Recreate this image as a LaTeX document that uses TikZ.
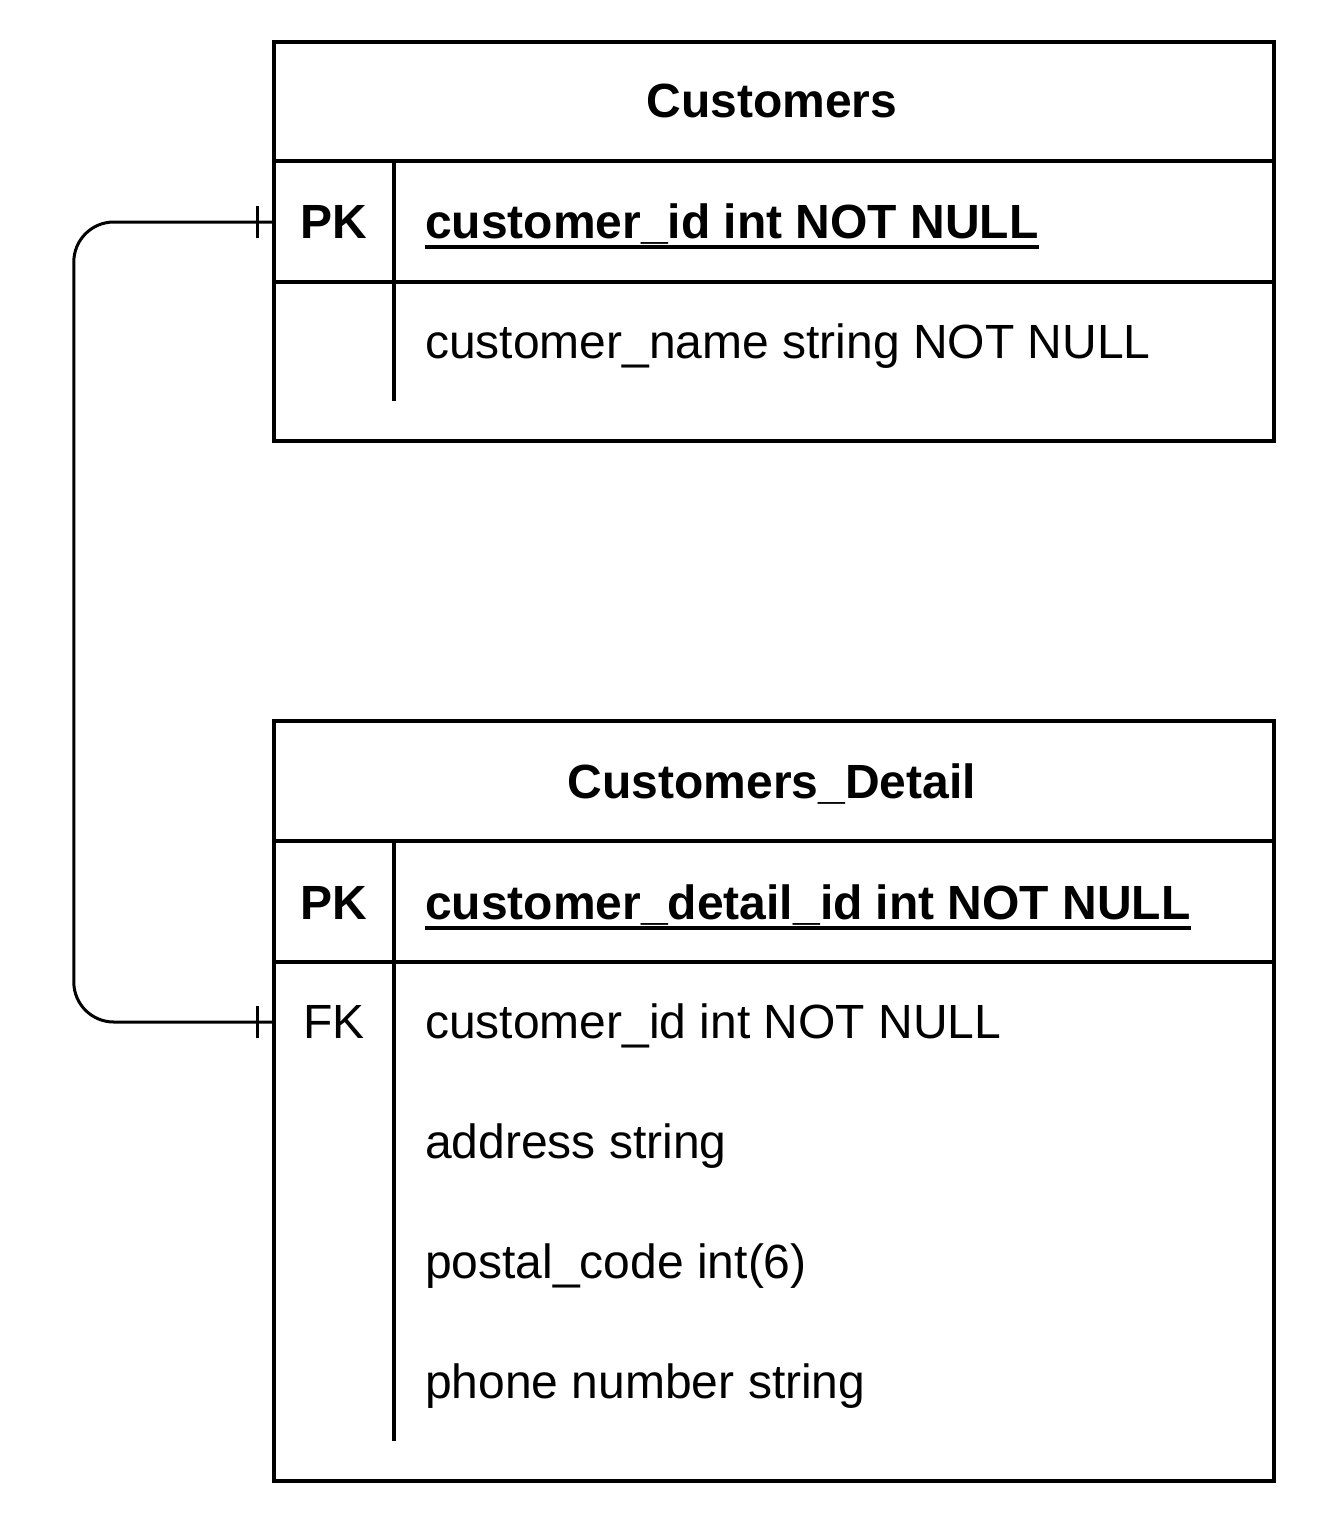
\documentclass[tikz,border=0pt]{standalone}
\usepackage{fontspec}
\setmainfont{Liberation Sans}
\begin{document}
\begin{tikzpicture}[x=1pt,y=-1pt,
  box/.style={draw,line width=4pt},
  rule/.style={line width=4pt},
  keycell/.style={minimum width=120pt,minimum height=120pt,inner sep=0pt},
  keytxt/.style={anchor=base,inner sep=0pt,font=\fontsize{48}{56}\selectfont},
  fieldtxt/.style={anchor=base west,inner sep=0pt,font=\fontsize{48}{56}\selectfont},
  title/.style={anchor=base,inner sep=0pt,font=\fontsize{48}{56}\selectfont\bfseries},
  conn/.style={line width=3pt,rounded corners=40pt},
  tick/.style={line width=3pt},
  uline/.style={line width=3.5pt}]
\useasboundingbox (0,0) rectangle (1320,1524);
% ---- Customers ----
\node[box,minimum width=1000pt,minimum height=399pt,inner sep=0pt] (t1) at (774,241.5) {};
\draw[rule] (274,161) -- (1274,161);
\draw[rule] (274,282) -- (1274,282);
\draw[rule] (394,161) -- (394,401);
\node[title] (t1h) at (772,117) {Customers};
\node[keycell] (t1k1) at (334,222) {};
\node[keytxt,font=\fontsize{48}{56}\selectfont\bfseries] (t1k1t) at (334,238) {PK};
\node[fieldtxt,font=\fontsize{48}{56}\selectfont\bfseries] (t1f1) at (425,238) {customer\_id int NOT NULL};
\draw[uline] ([yshift=-9pt]t1f1.base west) -- ([yshift=-9pt]t1f1.base east);
\node[keycell] (t1k2) at (334,343) {};
\node[fieldtxt] (t1f2) at (425,358) {customer\_name string NOT NULL};
% ---- Customers_Detail ----
\node[box,minimum width=1000pt,minimum height=760pt,inner sep=0pt] (t2) at (774,1101) {};
\draw[rule] (274,841) -- (1274,841);
\draw[rule] (274,962) -- (1274,962);
\draw[rule] (394,841) -- (394,1441);
\node[title] (t2h) at (772,798) {Customers\_Detail};
\node[keycell] (t2k1) at (334,903) {};
\node[keytxt,font=\fontsize{48}{56}\selectfont\bfseries] (t2k1t) at (334,919) {PK};
\node[fieldtxt,font=\fontsize{48}{56}\selectfont\bfseries] (t2f1) at (425,919) {customer\_detail\_id int NOT NULL};
\draw[uline] ([yshift=-9pt]t2f1.base west) -- ([yshift=-9pt]t2f1.base east);
\node[keycell] (t2k2) at (334,1022) {};
\node[keytxt] (t2k2t) at (334,1038) {FK};
\node[fieldtxt] (t2f2) at (425,1038) {customer\_id int NOT NULL};
\node[fieldtxt] (t2f3) at (425,1158) {address string};
\node[fieldtxt] (t2f4) at (425,1278) {postal\_code int(6)};
\node[fieldtxt] (t2f5) at (425,1398) {phone number string};
% ---- relationship ----
\draw[conn] (t1k1.west) -- ++(-200,0) |- (t2k2.west);
\draw[tick] ([xshift=-16pt,yshift=-16pt]t1k1.west) -- ([xshift=-16pt,yshift=16pt]t1k1.west);
\draw[tick] ([xshift=-16pt,yshift=-16pt]t2k2.west) -- ([xshift=-16pt,yshift=16pt]t2k2.west);
\end{tikzpicture}
\end{document}
